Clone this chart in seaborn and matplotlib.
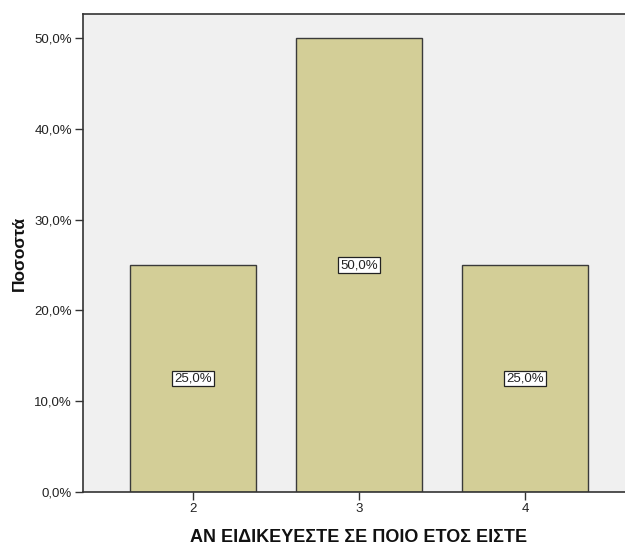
import matplotlib
matplotlib.use("Agg")
import matplotlib.pyplot as plt
import seaborn as sns
import pandas as pd

years = ["2", "3", "4"]
percent = [25.0, 50.0, 25.0]

df = pd.DataFrame({"year": years, "pct": percent})

sns.set_theme(style="white")
plt.rcParams["font.family"] = ["Liberation Sans", "DejaVu Sans"]

fig = plt.figure(figsize=(6.25, 5.47), dpi=100)
# the plot frame runs slightly past the right edge of the canvas
ax = fig.add_axes([0.1328, 0.1005, 0.8832, 0.8739])
ax.set_facecolor("#f0f0f0")

sns.barplot(data=df, x="year", y="pct", order=years, color="#d3ce97",
            saturation=1, width=0.76, edgecolor="#3a3a3a", linewidth=1.0, ax=ax)

for patch, val in zip(ax.patches, percent):
    cx = patch.get_x() + patch.get_width() / 2
    ax.text(cx, val / 2, f"{val:.1f}%".replace(".", ","), ha="center", va="center",
            fontsize=9.5, color="#222222",
            bbox=dict(boxstyle="square,pad=0.15", facecolor="white", edgecolor="#222222", linewidth=0.9))

ax.set_ylim(0, 52.64)
ax.set_xlim(-0.663, 2.663)
yt = [0, 10, 20, 30, 40, 50]
ax.set_yticks(yt)
ax.set_yticklabels([f"{v:.1f}%".replace(".", ",") for v in yt], fontsize=9.5, color="#222222")
ax.set_xticks(range(len(years)))
ax.set_xticklabels(years, fontsize=9.5, color="#222222")
ax.tick_params(axis="both", which="major", direction="out", length=6, width=1,
               color="#333333", left=True, bottom=True, pad=2)

for side in ["left", "bottom", "top"]:
    ax.spines[side].set_visible(True)
    ax.spines[side].set_color("#333333")
    ax.spines[side].set_linewidth(1.2)
ax.spines["right"].set_visible(False)

ax.set_ylabel("Ποσοστά", fontsize=12.5, fontweight="bold", color="#111111", labelpad=5)
ax.set_xlabel("ΑΝ ΕΙΔΙΚΕΥΕΣΤΕ ΣΕ ΠΟΙΟ ΕΤΟΣ ΕΙΣΤΕ", fontsize=13, fontweight="bold",
              color="#111111", labelpad=10)

fig.savefig("out.png", dpi=100, facecolor="white")
